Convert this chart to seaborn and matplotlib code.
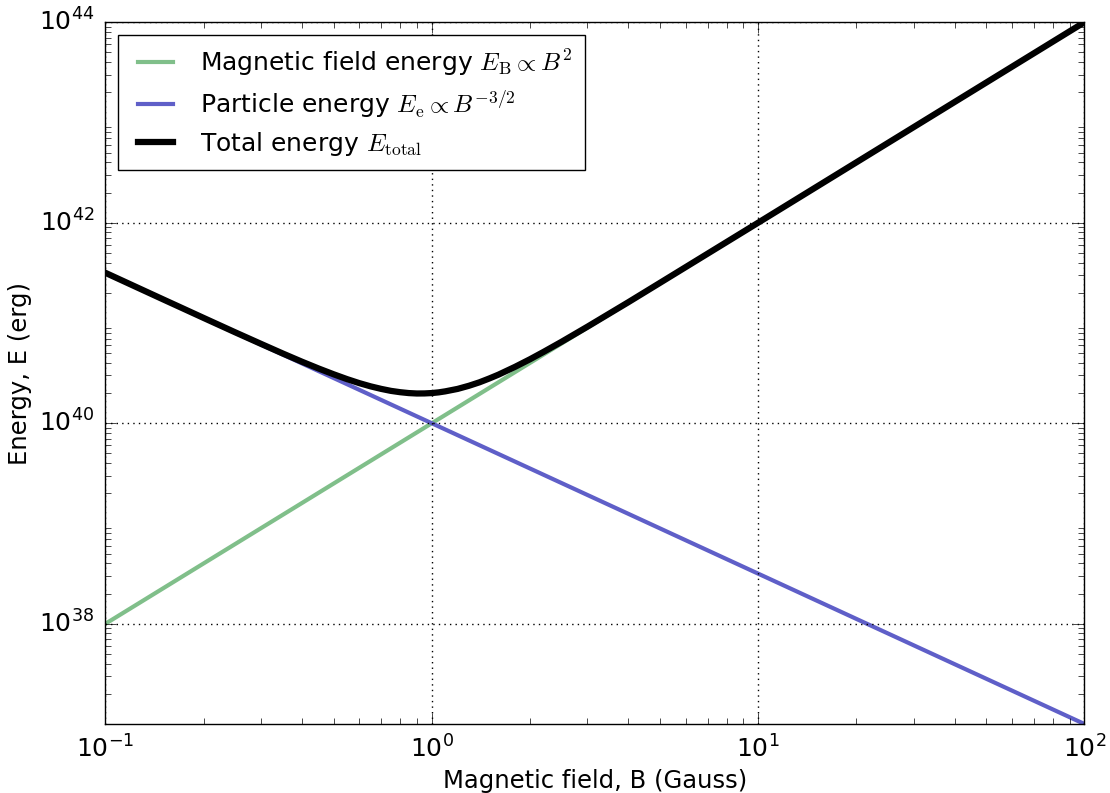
import numpy as np
import pandas as pd
import matplotlib
matplotlib.use("Agg")
import matplotlib.pyplot as plt
import seaborn as sns

# Data
b_lines = [0.1, 100.0]
e_magnetic = [1e38, 1e44]
e_particle = [3.16e41, 1e37]

b_total = [0.1, 0.12, 0.15, 0.17, 0.2, 0.25, 0.3, 0.35, 0.4, 0.45, 0.5, 0.55,
           0.6, 0.65, 0.7, 0.75, 0.8, 0.85, 0.9, 0.95, 1.0, 1.05, 1.1, 1.2,
           1.3, 1.4, 1.5, 1.6, 1.8, 2.0, 2.2, 2.5, 3.0, 4.0, 5.0, 7.0, 10.0,
           20.0, 50.0, 100.0]
e_total = [3.163e41, 2.407e41, 1.723e41, 1.430e41, 1.122e41, 8.06e40, 6.18e40,
           4.95e40, 4.11e40, 3.515e40, 3.08e40, 2.754e40, 2.51e40, 2.331e40,
           2.20e40, 2.102e40, 2.04e40, 1.999e40, 1.98e40, 1.983e40, 2.00e40,
           2.032e40, 2.08e40, 2.20e40, 2.365e40, 2.56e40, 2.794e40, 3.05e40,
           3.654e40, 4.35e40, 5.146e40, 6.50e40, 9.19e40, 1.61e41, 2.51e41,
           4.91e41, 1.0e42, 4.0e42, 2.5e43, 1.0e44]

labels = [r"Magnetic field energy $E_{\rm B} \propto B^2$",
          r"Particle energy $E_{\rm e} \propto B^{-3/2}$",
          r"Total energy $E_{\rm total}$"]

sns.set_style("ticks")
plt.style.use("classic")
plt.rcParams["font.family"] = ["DejaVu Sans"]
plt.rcParams["mathtext.fontset"] = "cm"
plt.rcParams["figure.facecolor"] = "white"

fig, ax = plt.subplots(figsize=(11.1, 7.93), dpi=100)
fig.subplots_adjust(left=0.095, right=0.977, top=0.972, bottom=0.087)

df_m = pd.DataFrame({"B": b_lines, "E": e_magnetic})
df_p = pd.DataFrame({"B": b_lines, "E": e_particle})
df_t = pd.DataFrame({"B": b_total, "E": e_total})

sns.lineplot(data=df_m, x="B", y="E", ax=ax, color="#80bf8a", lw=3, label=labels[0])
sns.lineplot(data=df_p, x="B", y="E", ax=ax, color="#5f5fc8", lw=3, label=labels[1])
sns.lineplot(data=df_t, x="B", y="E", ax=ax, color="black", lw=4.5, label=labels[2])

ax.set_xscale("log")
ax.set_yscale("log")
ax.set_xlim(0.1, 100)
ax.set_ylim(1e37, 1e44)
ax.set_yticks([1e38, 1e40, 1e42, 1e44])
ax.grid(True, which="major", linestyle=":", color="black", lw=1)
ax.tick_params(which="both", direction="in", top=True, right=True, labelsize=18)
ax.tick_params(which="major", length=8, pad=8)
ax.tick_params(which="minor", length=4)
ax.set_xlabel("Magnetic field, B (Gauss)", fontsize=17.5)
ax.set_ylabel("Energy, E (erg)", fontsize=17.5)

leg = ax.legend(loc="upper left", fontsize=18, frameon=True, fancybox=False,
                handlelength=2, borderpad=0.5, labelspacing=0.4)
leg.get_frame().set_edgecolor("black")

fig.savefig("out.png", dpi=100, facecolor="white")
